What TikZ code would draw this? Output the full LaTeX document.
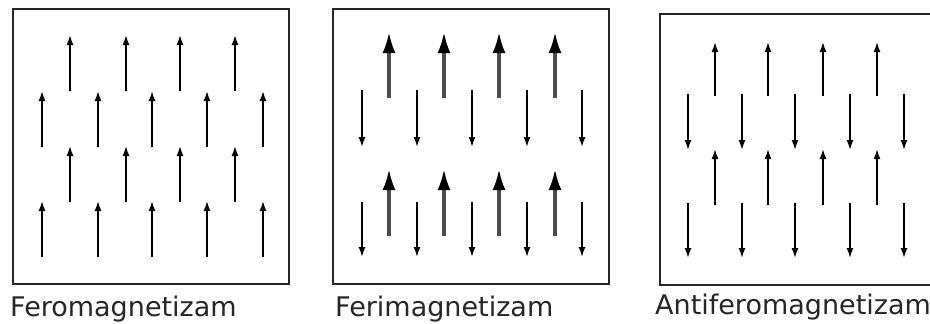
\documentclass[tikz,border=0pt]{standalone}
\usepackage{fontspec}
\setmainfont{DejaVu Sans}
\usetikzlibrary{arrows.meta}
\tikzset{
  spin/.style={line width=1.6pt,-{Latex[length=10pt,width=7pt]}},
  bigspin/.style={line width=3.2pt,color=black!70,-{Latex[length=21pt,width=13pt,color=black]}},
  panel/.style={line width=1.4pt,color=black!85},
  caption/.style={anchor=base west,inner sep=0pt,font=\fontsize{27}{30}\selectfont,color=black!85}
}
\begin{document}
\begin{tikzpicture}[x=1pt,y=-1pt]
\clip (0,0) rectangle (930,324);
\fill[white] (0,0) rectangle (930,324);
% feromagnetizam
\draw[panel] (13,9) rectangle (289,284);
\foreach \x in {70,126,180,235} {
  \draw[spin] (\x,91) -- (\x,35);
  \draw[spin] (\x,202) -- (\x,146);
}
\foreach \x in {42,98,152,207,263} {
  \draw[spin] (\x,147) -- (\x,91);
  \draw[spin] (\x,257) -- (\x,201);
}
\node[caption] (fero) at (10,316) {Feromagnetizam};
% ferimagnetizam
\draw[panel] (333,9) rectangle (609,284);
\foreach \x in {389,444,499,555} {
  \draw[bigspin] (\x,98) -- (\x,32);
  \draw[bigspin] (\x,236) -- (\x,169);
}
\foreach \x in {362,417,472,527,582} {
  \draw[spin] (\x,90) -- (\x,147);
  \draw[spin] (\x,202) -- (\x,257);
}
\node[caption] (feri) at (335,316) {Ferimagnetizam};
% antiferomagnetizam
\draw[panel] (660,14) rectangle (940,285);
\foreach \x in {715,768,823,877} {
  \draw[spin] (\x,96) -- (\x,42);
  \draw[spin] (\x,205) -- (\x,149);
}
\foreach \x in {688,742,795,850,904} {
  \draw[spin] (\x,94) -- (\x,150);
  \draw[spin] (\x,203) -- (\x,258);
}
\node[caption] (antifero) at (655,314) {Antiferomagnetizam};
\end{tikzpicture}
\end{document}
